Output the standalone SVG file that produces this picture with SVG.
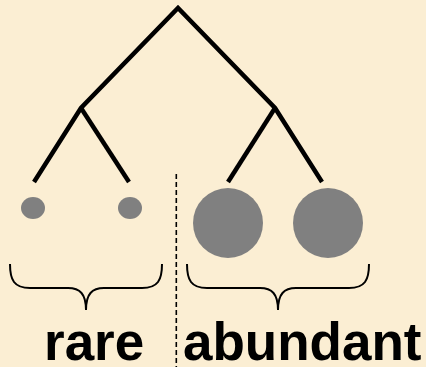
<svg xmlns="http://www.w3.org/2000/svg" width="426" height="367" viewBox="0 0 426 367">
<style>
.edge{stroke:#000;stroke-width:4.5;fill:none;stroke-linecap:butt;stroke-linejoin:miter}
.leaf{fill:#808080}
.brace{stroke:#000;stroke-width:2;fill:none}
.lbl{font-family:"Liberation Sans",Arial,sans-serif;font-weight:bold;font-size:53px;fill:#000}
</style>
<rect width="426" height="367" fill="#FBEED3"/>
<g id="connectors">
<polyline class="edge" points="34,182 81,108 178,8 275,108 322,182"/>
<line class="edge" x1="81" y1="108" x2="129" y2="182"/>
<line class="edge" x1="275" y1="108" x2="228" y2="182"/>
<line x1="176.3" y1="174" x2="176.3" y2="367" stroke="#000" stroke-width="1.6" stroke-dasharray="5,3"/>
</g>
<g id="leaf1"><ellipse class="leaf" cx="33" cy="208" rx="12" ry="11"/></g>
<g id="leaf2"><ellipse class="leaf" cx="130" cy="208" rx="12" ry="11"/></g>
<g id="leaf3"><circle class="leaf" cx="228" cy="223" r="35"/></g>
<g id="leaf4"><circle class="leaf" cx="328" cy="223" r="35"/></g>
<g id="rare">
<path class="brace" d="M10,264 C10,280 14,288 30,288 H68 C80,288 86,294 86,310 M162,264 C162,280 158,288 142,288 H104 C92,288 86,294 86,310"/>
<text class="lbl" x="44" y="360">rare</text>
</g>
<g id="abundant">
<path class="brace" d="M187,264 C187,280 191,288 207,288 H260 C272,288 278,294 278,310 M369,264 C369,280 365,288 349,288 H296 C284,288 278,294 278,310"/>
<text class="lbl" x="183" y="360">abundant</text>
</g>
</svg>
